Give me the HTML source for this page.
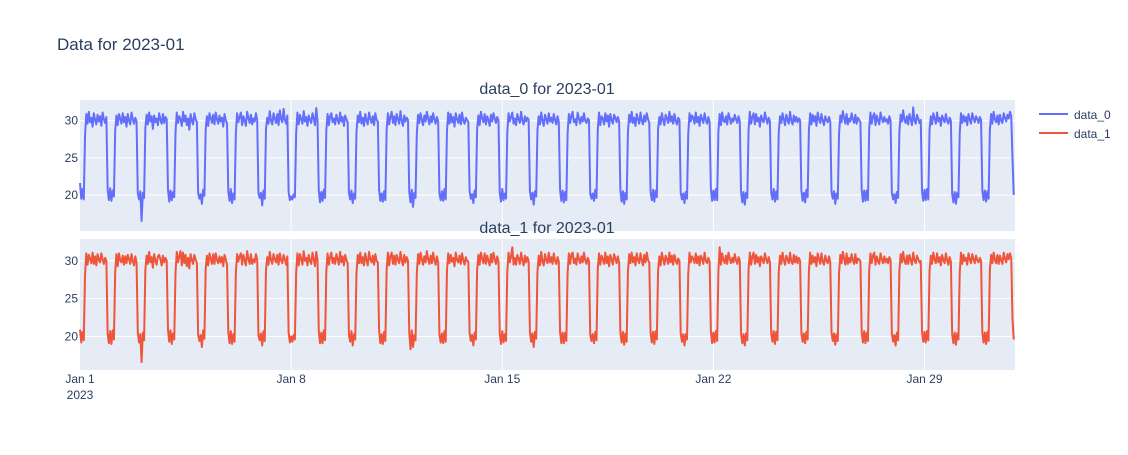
<!DOCTYPE html>
<html><head><meta charset="utf-8">
<style>
body{margin:0;background:#fff;}
svg text{font-family:"Liberation Sans",sans-serif;fill:#2a3f5f;}
</style></head>
<body>
<svg id="chart" width="1128" height="450">
<text x="57" y="50" font-size="17">Data for 2023-01</text>
<rect x="80" y="100" width="935" height="131" fill="#e5ecf6"/>
<rect x="80" y="239" width="935" height="131" fill="#e5ecf6"/>
<g id="grid"></g>
<g id="series"></g>
<text x="547" y="94" font-size="16" text-anchor="middle">data_0 for 2023-01</text>
<text x="547" y="233" font-size="16" text-anchor="middle">data_1 for 2023-01</text>
<g>
<line x1="1039" y1="114" x2="1068" y2="114" stroke="#636efa" stroke-width="2"/>
<text x="1074" y="119" font-size="12">data_0</text>
<line x1="1039" y1="133" x2="1068" y2="133" stroke="#ef553b" stroke-width="2"/>
<text x="1074" y="138" font-size="12">data_1</text>
</g>
</svg>
<script>
const xTickDays=[0,7,14,21,28];
const xTickLabels=["Jan 1","Jan 8","Jan 15","Jan 22","Jan 29"];
const yTicks=[20,25,30];
// hourly values, one row per day (Jan 1 .. Jan 31)
const data0=[
[21.6,19.5,20.8,19.4,27.9,30.9,29.6,31.2,29.8,30.4,29.2,31.0,30.1,29.5,30.8,29.9,30.6,29.3,31.1,30.2,29.7,30.5,20.7,19.3],
[20.9,19.2,20.6,19.8,28.6,30.7,29.4,30.9,30.3,29.6,31.0,29.8,30.5,29.2,30.9,30.0,29.5,31.1,30.2,29.6,30.4,29.9,20.2,19.4],
[20.5,16.5,20.3,19.6,29.0,30.8,29.5,31.1,29.9,30.6,28.9,30.7,29.8,30.3,29.4,31.0,30.1,29.6,30.9,29.7,30.5,30.2,20.8,19.1],
[20.6,19.3,20.4,19.7,28.4,31.1,29.7,30.6,30.2,29.3,31.2,29.9,30.7,29.4,30.3,28.8,30.9,30.0,29.5,31.0,30.2,29.8,20.3,19.5],
[20.1,18.8,20.7,19.9,28.8,30.6,29.3,31.0,30.4,29.7,30.8,29.5,31.1,30.2,29.6,30.7,29.9,30.4,29.2,30.9,30.1,29.6,20.5,19.2],
[20.8,18.9,20.2,19.4,28.2,31.0,29.8,30.5,31.1,29.4,30.6,30.0,29.3,31.2,30.4,29.7,30.8,29.5,30.3,29.9,31.0,30.1,20.2,19.6],
[20.3,18.6,20.6,19.5,28.9,30.4,29.6,31.3,30.0,29.5,31.0,30.3,29.7,30.9,29.4,31.4,30.2,29.8,31.6,30.1,29.6,30.7,20.4,19.3],
[19.8,19.4,20.1,19.7,28.3,31.1,29.5,30.8,30.2,29.6,31.3,29.9,30.5,29.3,30.7,30.1,29.7,31.0,30.3,29.4,31.7,30.0,20.6,19.0],
[20.4,19.2,20.7,19.6,28.7,30.9,29.4,30.6,31.0,29.8,30.3,29.5,30.8,30.1,29.6,31.1,29.9,30.5,29.3,30.7,30.2,29.8,20.3,19.4],
[20.6,18.9,20.2,19.5,28.5,30.7,29.8,31.2,29.6,30.4,29.3,30.9,30.0,29.5,31.1,30.3,29.7,30.6,29.4,31.0,30.1,29.9,20.7,19.2],
[20.2,19.1,20.5,19.3,28.8,31.0,29.5,30.5,31.2,29.7,30.6,29.4,30.9,30.2,29.6,31.3,30.0,29.3,30.7,29.9,30.4,30.1,20.4,19.0],
[20.7,18.4,20.3,19.6,28.2,30.8,29.7,31.0,30.1,29.4,30.7,29.9,31.2,30.3,29.5,30.6,29.8,31.0,30.2,29.6,30.5,29.9,20.2,19.3],
[20.5,19.2,20.8,19.4,28.6,31.1,29.6,30.9,29.8,30.5,29.2,31.0,30.2,29.7,30.8,29.5,31.1,30.0,29.6,30.4,30.1,29.8,20.6,19.5],
[20.1,18.9,20.6,19.7,28.9,30.7,29.4,31.2,30.4,29.8,30.9,29.5,30.6,30.1,29.3,30.8,29.9,31.0,30.3,29.7,30.5,30.0,20.3,19.1],
[20.8,19.3,20.2,19.5,28.4,31.0,29.9,30.5,31.1,29.6,30.3,29.4,30.9,30.2,29.7,31.2,30.0,29.5,30.6,29.9,30.4,30.1,20.5,19.4],
[20.3,18.7,20.5,19.8,28.7,30.6,29.5,31.1,30.0,29.3,30.8,30.2,29.6,31.0,29.9,30.4,29.7,30.9,30.1,29.5,30.6,29.8,20.7,19.2],
[20.6,19.0,20.4,19.3,28.3,30.9,29.7,30.7,31.2,29.8,30.2,29.4,31.1,30.3,29.6,30.5,29.9,31.0,30.0,29.7,30.3,30.1,20.2,19.5],
[20.2,19.2,20.7,19.6,28.8,31.1,29.4,30.6,30.3,29.5,31.0,29.9,30.7,29.2,30.9,30.1,29.6,30.8,30.4,29.8,30.5,29.9,20.6,19.1],
[20.5,18.8,20.3,19.4,28.5,30.8,29.8,31.2,29.7,30.4,29.3,30.9,30.2,29.6,31.1,30.0,29.5,30.7,29.9,31.0,30.2,29.7,20.4,19.3],
[20.7,19.1,20.6,19.7,28.9,30.5,29.5,31.0,30.1,29.4,30.8,30.3,29.7,31.2,29.9,30.6,29.6,30.9,30.0,29.5,30.4,30.1,20.3,19.4],
[20.2,18.9,20.4,19.5,28.2,31.0,29.9,30.7,30.4,29.6,31.1,29.8,30.5,29.3,30.8,30.2,29.7,31.0,30.1,29.6,30.5,29.8,20.8,19.2],
[20.6,19.3,20.8,19.3,28.6,30.9,29.4,31.1,30.0,29.8,30.6,29.5,31.0,30.4,29.6,30.3,29.9,30.8,30.2,29.7,30.6,30.0,20.5,19.0],
[20.4,18.7,20.3,19.6,28.8,31.2,29.6,30.5,31.0,29.5,30.9,29.9,30.4,29.2,30.7,30.1,29.8,31.1,30.3,29.6,30.4,29.9,20.3,19.4],
[20.8,19.1,20.5,19.4,28.4,30.6,29.7,31.0,30.2,29.4,30.8,30.1,29.6,31.2,30.0,29.5,30.7,29.9,30.5,29.8,30.3,30.1,20.6,19.2],
[20.3,19.0,20.7,19.7,28.7,31.0,29.5,30.8,29.9,30.6,29.3,31.1,30.2,29.7,30.9,30.0,29.4,30.6,30.1,29.8,30.5,29.9,20.4,19.5],
[20.5,18.8,20.2,19.5,28.3,30.7,29.8,31.3,30.4,29.6,30.9,29.5,30.3,29.9,31.0,30.2,29.7,30.8,29.6,30.4,30.1,29.8,20.7,19.1],
[20.6,19.2,20.6,19.3,28.9,31.1,29.6,30.6,31.0,29.4,30.7,30.0,29.5,31.1,30.3,29.8,30.5,29.9,30.2,29.6,30.6,30.0,20.3,19.4],
[20.1,18.9,20.4,19.6,28.5,30.8,29.9,31.4,30.1,29.7,30.6,29.5,30.9,30.2,29.4,31.8,30.0,29.6,30.8,30.3,29.7,30.1,20.5,19.2],
[20.7,19.3,20.8,19.4,28.8,30.6,29.5,31.0,30.3,29.6,31.1,29.9,30.4,29.3,30.7,30.2,29.8,30.9,30.0,29.6,30.4,30.0,20.2,19.0],
[20.4,18.8,20.3,19.7,28.2,31.0,29.7,30.7,29.9,30.5,29.4,30.9,30.1,29.6,31.0,30.3,29.8,30.6,30.2,29.7,30.5,30.1,20.6,19.3],
[20.6,19.1,20.5,19.5,28.7,30.9,29.6,31.2,30.2,29.8,30.7,29.5,30.8,30.0,29.7,31.0,30.4,29.9,30.8,30.3,31.2,30.6,25.0,20.0]
];
const data1=[
[20.9,19.2,20.6,19.5,28.1,31.0,29.5,30.8,30.3,29.7,31.1,29.6,30.6,29.4,30.9,30.1,29.8,31.0,30.2,29.6,30.4,30.0,20.4,19.1],
[20.7,19.0,20.8,19.6,28.5,30.9,29.3,31.0,30.1,29.8,30.7,29.5,30.6,29.7,30.8,30.2,29.6,30.9,30.0,29.4,30.6,29.8,20.5,19.2],
[20.3,16.6,20.5,19.5,28.8,30.7,29.6,31.2,29.8,30.5,29.1,30.9,30.0,29.5,30.6,30.8,30.2,29.4,30.7,29.8,30.4,30.0,20.9,19.3],
[20.8,19.0,20.4,19.6,28.4,31.2,29.8,30.6,31.3,29.4,31.1,29.7,30.8,29.3,30.4,29.0,30.9,30.1,29.6,30.8,30.2,29.7,20.2,19.4],
[20.2,18.6,20.8,19.7,28.9,30.7,29.4,31.0,30.3,29.6,30.9,29.6,31.0,30.1,29.7,30.6,29.8,30.5,29.3,30.8,30.2,29.5,20.6,19.1],
[20.7,19.0,20.3,19.3,28.3,30.9,29.9,30.6,31.0,29.5,30.8,30.1,29.4,31.3,30.3,29.6,30.9,29.6,30.2,29.8,30.9,30.2,20.1,19.5],
[20.4,18.8,20.7,19.4,28.8,30.5,29.5,31.2,30.1,29.6,30.9,30.2,29.8,30.8,29.5,31.0,30.1,29.7,30.8,30.2,29.5,30.6,20.5,19.2],
[20.0,19.3,20.2,19.6,28.4,31.0,29.4,30.9,30.3,29.5,31.3,30.0,30.4,29.4,30.8,30.0,29.6,31.1,30.2,29.3,31.2,30.1,20.7,19.1],
[20.5,19.1,20.8,19.5,28.6,31.0,29.5,30.5,31.1,29.7,30.4,29.6,30.9,30.2,29.5,31.2,29.8,30.6,29.4,30.8,30.1,29.7,20.2,19.3],
[20.7,18.8,20.3,19.6,28.4,30.8,29.7,31.1,29.7,30.5,29.4,31.0,30.1,29.4,31.2,30.2,29.8,30.7,29.5,30.9,30.0,29.8,20.8,19.1],
[20.3,19.0,20.6,19.4,28.9,31.1,29.4,30.6,31.1,29.6,30.7,29.5,30.8,30.1,29.7,31.2,30.1,29.4,30.8,29.8,30.5,30.0,20.5,18.3],
[20.8,18.6,20.2,19.5,28.3,30.9,29.6,31.1,30.2,29.5,30.6,29.8,31.3,30.2,29.6,30.7,29.7,31.1,30.1,29.5,30.6,29.8,20.3,19.2],
[20.4,19.1,20.7,19.3,28.7,31.0,29.7,30.8,29.9,30.4,29.3,31.1,30.1,29.8,30.7,29.6,31.0,30.1,29.5,30.5,30.0,29.9,20.5,19.4],
[20.2,18.8,20.5,19.6,28.8,30.8,29.5,31.1,30.3,29.7,31.0,29.6,30.7,30.0,29.4,30.9,29.8,31.1,30.2,29.6,30.6,29.9,20.4,19.0],
[20.7,19.2,20.3,19.4,28.5,31.1,29.8,30.6,31.8,29.5,30.4,29.5,30.8,30.3,29.6,31.1,30.1,29.4,30.7,29.8,30.5,30.0,20.6,19.3],
[20.4,18.6,20.6,19.7,28.6,30.7,29.4,31.2,29.9,29.4,30.9,30.1,29.7,31.1,29.8,30.5,29.6,31.0,30.0,29.6,30.5,29.9,20.6,19.1],
[20.5,19.1,20.5,19.4,28.4,31.0,29.6,30.8,31.1,29.7,30.3,29.5,31.0,30.2,29.7,30.6,29.8,31.1,30.1,29.6,30.4,30.0,20.3,19.4],
[20.3,19.1,20.6,19.5,28.9,31.0,29.5,30.7,30.2,29.6,31.1,29.7,30.6,29.3,30.8,30.2,29.5,30.9,30.3,29.7,30.6,29.8,20.5,19.2],
[20.6,18.9,20.4,19.3,28.6,30.9,29.7,31.1,29.8,30.5,29.4,31.0,30.1,29.7,31.0,30.1,29.4,30.8,29.8,31.1,30.1,29.8,20.5,19.2],
[20.6,19.0,20.7,19.6,28.8,30.6,29.4,31.1,30.2,29.5,30.7,30.2,29.6,31.1,29.8,30.7,29.5,30.8,30.1,29.6,30.3,30.0,20.4,19.3],
[20.3,18.8,20.3,19.6,28.3,31.1,29.8,30.6,30.3,29.7,31.0,29.7,30.6,29.4,30.7,30.3,29.6,31.1,30.0,29.7,30.4,29.9,20.7,19.1],
[20.5,19.2,20.7,19.4,28.7,31.8,29.5,31.0,30.1,29.7,30.7,29.6,31.1,30.3,29.7,30.4,29.8,30.9,30.1,29.6,30.5,30.1,20.4,19.1],
[20.3,18.8,20.4,19.5,28.9,31.1,29.5,30.6,31.1,29.6,30.8,29.8,30.5,29.3,30.6,30.2,29.7,31.0,30.2,29.7,30.5,29.8,20.4,19.3],
[20.7,19.0,20.6,19.5,28.5,30.7,29.6,31.1,30.1,29.5,30.7,30.2,29.7,31.1,29.9,29.6,30.8,29.8,30.6,29.7,30.4,30.0,20.5,19.3],
[20.4,19.1,20.6,19.6,28.6,31.1,29.6,30.7,29.8,30.5,29.3,31.0,30.3,29.6,31.0,29.9,29.5,30.7,30.0,29.7,30.6,29.8,20.5,19.4],
[20.4,18.9,20.3,19.4,28.4,30.8,29.7,31.2,30.3,29.5,31.0,29.6,30.4,29.8,30.9,30.1,29.6,30.9,29.7,30.3,30.2,29.9,20.6,19.2],
[20.7,19.1,20.5,19.4,28.8,31.0,29.7,30.7,31.1,29.5,30.6,29.9,29.6,31.0,30.2,29.7,30.6,29.8,30.3,29.7,30.5,30.1,20.4,19.3],
[20.2,18.8,20.5,19.5,28.6,30.9,29.8,31.2,30.0,29.6,30.7,29.6,30.8,30.1,29.5,31.1,30.1,29.7,30.7,30.2,29.8,30.0,20.6,19.3],
[20.6,19.2,20.7,19.5,28.7,30.7,29.6,31.1,30.2,29.7,31.0,29.8,30.5,29.4,30.8,30.1,29.7,31.0,30.1,29.5,30.5,29.9,20.3,19.1],
[20.5,18.9,20.4,19.6,28.3,31.1,29.6,30.8,30.0,30.4,29.5,31.0,30.2,29.7,30.9,30.2,29.7,30.7,30.1,29.8,30.4,30.0,20.5,19.2],
[20.5,19.0,20.6,19.4,28.8,30.8,29.7,31.1,30.1,29.7,30.8,29.6,30.7,30.1,29.6,31.1,30.3,29.8,30.9,30.2,31.0,30.4,22.3,19.6]
];
const NS="http://www.w3.org/2000/svg";
const X0=80,X1=1015,DAYS=31;
const xScale=d=>X0+(d/DAYS)*(X1-X0);
const panels=[{top:100,bottom:231,ymin:15.15,ymax:32.79},{top:239,bottom:370,ymin:15.56,ymax:32.9}];
const yScale=(p,v)=>p.bottom-(v-p.ymin)/(p.ymax-p.ymin)*(p.bottom-p.top);
const grid=document.getElementById('grid'),series=document.getElementById('series'),svg=document.getElementById('chart');
panels.forEach((p,pi)=>{
  xTickDays.forEach((d,i)=>{
    if(d===0)return;
    const l=document.createElementNS(NS,'line');
    l.setAttribute('x1',xScale(d));l.setAttribute('x2',xScale(d));
    l.setAttribute('y1',p.top);l.setAttribute('y2',p.bottom);
    l.setAttribute('stroke','#fff');l.setAttribute('stroke-width','1');
    
    
    grid.appendChild(l);
  });
  yTicks.forEach(v=>{
    const y=yScale(p,v);
    const l=document.createElementNS(NS,'line');
    l.setAttribute('x1',X0);l.setAttribute('x2',X1);l.setAttribute('y1',y);l.setAttribute('y2',y);
    l.setAttribute('stroke','#fff');l.setAttribute('stroke-width','1');
    
    
    grid.appendChild(l);
    const t=document.createElementNS(NS,'text');
    t.setAttribute('x',X0-2);t.setAttribute('y',y+4);t.setAttribute('font-size','12');t.setAttribute('text-anchor','end');
    t.textContent=v;
    
    
    svg.appendChild(t);
  });
});
xTickDays.forEach((d,i)=>{
  const t=document.createElementNS(NS,'text');
  t.setAttribute('x',xScale(d));t.setAttribute('y',383);t.setAttribute('font-size','12');t.setAttribute('text-anchor','middle');
  t.textContent=xTickLabels[i];
  
  
  svg.appendChild(t);
});
const yr=document.createElementNS(NS,'text');
yr.setAttribute('x',xScale(0));yr.setAttribute('y',399);yr.setAttribute('font-size','12');yr.setAttribute('text-anchor','middle');
yr.textContent='2023';


svg.appendChild(yr);
[[data0,'#636efa',panels[0],'series-data-0'],[data1,'#ef553b',panels[1],'series-data-1']].forEach(([data,col,p,nm])=>{
  const flat=[].concat(...data);
  const pts=flat.map((v,i)=>xScale(i/24).toFixed(2)+','+yScale(p,v).toFixed(2)).join(' ');
  const pl=document.createElementNS(NS,'polyline');
  pl.setAttribute('points',pts);pl.setAttribute('fill','none');pl.setAttribute('stroke',col);
  pl.setAttribute('stroke-width','2');pl.setAttribute('stroke-linejoin','round');
  
  
  series.appendChild(pl);
});
</script>
</body></html>
